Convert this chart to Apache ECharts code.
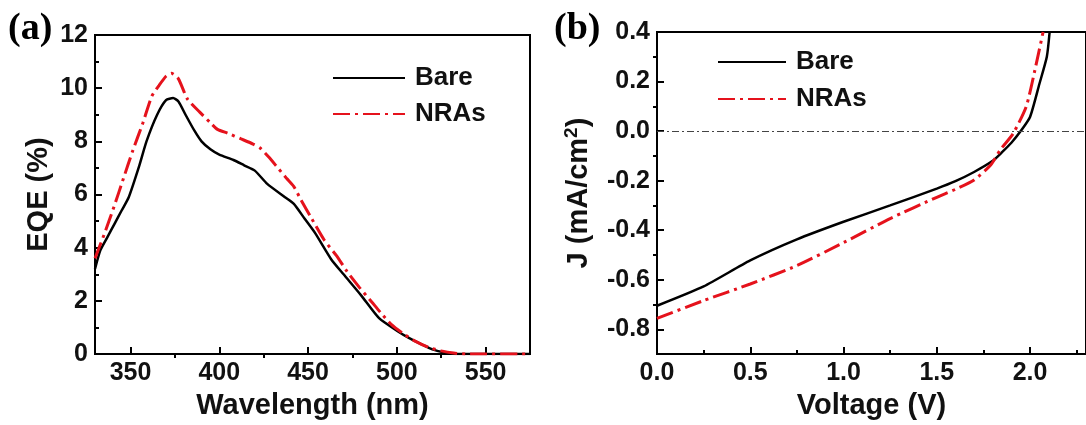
<!DOCTYPE html>
<html><head><meta charset="utf-8">
<script src="https://cdn.jsdelivr.net/npm/echarts@6/dist/echarts.min.js"></script>
<style>html,body{margin:0;padding:0;background:#fff}#c{width:1086px;height:425px}</style>
</head><body><div id="c"></div>
<script>
// ---- Panel (a): EQE spectra ----
const bareWavelength = [330,333,337,341,345,349,355,359,365,370,374,377,381,386,390,395,400,408,414,420,427,437,442,448,454,463,470,480,490,500,507,514,520,527,535,575];
const bareEQE = [3.2,3.9,4.4,4.9,5.4,5.9,7.1,8.0,9.0,9.55,9.63,9.5,9.0,8.4,8.0,7.7,7.5,7.3,7.1,6.9,6.4,5.9,5.65,5.1,4.55,3.57,3.0,2.2,1.35,0.88,0.6,0.37,0.18,0.06,0,0];
const nraWavelength = [330,336,341,346,351,357,362,366,370,373,377,382,389,395,399,405,412,419,423,428,433,438,442,446,452,459,466,472,479,486,491,497,504,510,518,525,532,540,575];
const nraEQE = [3.6,4.65,5.6,6.6,7.6,8.7,9.7,10.1,10.45,10.56,10.35,9.6,9.1,8.7,8.45,8.3,8.1,7.9,7.75,7.4,7.0,6.6,6.3,5.8,5.1,4.3,3.7,3.1,2.5,1.95,1.55,1.11,0.75,0.5,0.25,0.12,0.04,0,0];
const wlMajorTicks = [350,400,450,500,550];
const wlMinorTicks = [375,425,475,525];

// ---- Panel (b): J-V curves ----
const bareVoltage = [0,0.25,0.5,0.75,1.0,1.25,1.5,1.6,1.7,1.8,1.85,1.9,1.95,2.0,2.05,2.09,2.105];
const bareJ = [-0.705,-0.627,-0.522,-0.437,-0.366,-0.30,-0.232,-0.202,-0.165,-0.12,-0.085,-0.047,0.0,0.057,0.19,0.30,0.40];
const nraVoltage = [0,0.25,0.5,0.75,1.0,1.25,1.5,1.6,1.7,1.79,1.84,1.91,1.98,2.03,2.07];
const nraJ = [-0.756,-0.684,-0.617,-0.543,-0.45,-0.353,-0.267,-0.235,-0.197,-0.136,-0.076,-0.009,0.10,0.26,0.40];
const jMajorTicks = [-0.8,-0.6,-0.4,-0.2,0,0.2,0.4];
const jMinorTicks = [-0.7,-0.5,-0.3,-0.1,0.1,0.3];

const seriesNames = ['Bare','NRAs'];

const FONT = 'Liberation Sans, Arial, sans-serif';
const RED = '#e5121c';
const dashDot = [17,5,3,5];
const labelStyle = {color:'#111', fontFamily:FONT, fontWeight:'bold', fontSize:25};
const nameStyle = {color:'#111', fontFamily:FONT, fontWeight:'bold', fontSize:29};
const axLine = {show:true, onZero:false, lineStyle:{color:'#000', width:2}};

function zip(a,b){return a.map((v,i)=>[v,b[i]]);}

const chart = echarts.init(document.getElementById('c'), null, {renderer:'canvas'});
const legendText = {color:'#111', fontFamily:FONT, fontWeight:'bold', fontSize:26, lineHeight:30, padding:[0,0,0,5]};
chart.setOption({
  backgroundColor:'#fff',
  animation:false,
  grid:[
    {left:95, top:35, width:435, height:325, show:true, borderColor:'#000', borderWidth:2, backgroundColor:'transparent'},
    {left:657, top:32, width:437, height:324, show:true, borderColor:'#000', borderWidth:2, backgroundColor:'transparent'}
  ],
  xAxis:[
    {gridIndex:0, type:'value', min:330, max:575, axisLine:axLine,
     axisTick:{show:true, inside:true, length:7, lineStyle:{width:2,color:'#000'}, customValues:wlMajorTicks},
     axisLabel:{...labelStyle, margin:7, customValues:wlMajorTicks},
     splitLine:{show:false},
     name:'Wavelength (nm)', nameLocation:'middle', nameGap:29, nameTextStyle:nameStyle},
    {gridIndex:0, type:'value', min:330, max:575, axisLine:{show:false},
     axisTick:{show:true, inside:true, length:4, lineStyle:{width:2,color:'#000'}, customValues:wlMinorTicks},
     axisLabel:{show:false}, splitLine:{show:false}},
    {gridIndex:1, type:'value', min:0, max:2.3, interval:0.5, axisLine:axLine,
     axisTick:{show:true, inside:true, length:7, lineStyle:{width:2,color:'#000'}},
     minorTick:{show:true, splitNumber:2, length:4, lineStyle:{width:2,color:'#000'}},
     axisLabel:{...labelStyle, margin:7, showMaxLabel:false, formatter:v=>v.toFixed(1)},
     splitLine:{show:false},
     name:'Voltage (V)', nameLocation:'middle', nameGap:29, nameTextStyle:nameStyle}
  ],
  yAxis:[
    {gridIndex:0, type:'value', min:0, max:12, interval:2, axisLine:axLine,
     axisTick:{show:true, inside:true, length:7, lineStyle:{width:2,color:'#000'}},
     minorTick:{show:true, splitNumber:2, length:4, lineStyle:{width:2,color:'#000'}},
     axisLabel:{...labelStyle, margin:7},
     splitLine:{show:false},
     name:'EQE (%)', nameLocation:'middle', nameGap:42, nameTextStyle:nameStyle},
    {gridIndex:1, type:'value', min:-0.9, max:0.4, axisLine:axLine,
     axisTick:{show:true, inside:true, length:7, lineStyle:{width:2,color:'#000'}, customValues:jMajorTicks},
     axisLabel:{...labelStyle, margin:7, customValues:jMajorTicks, formatter:v=>v.toFixed(1)},
     splitLine:{show:false},
     name:'{n|J (mA/cm}{s|2}{n|)}', nameLocation:'middle', nameGap:62,
     nameTextStyle:{...nameStyle, rich:{
        n:{color:'#111', fontFamily:FONT, fontWeight:'bold', fontSize:29},
        s:{color:'#111', fontFamily:FONT, fontWeight:'bold', fontSize:19, verticalAlign:'top', padding:[0,0,14,0]}}}},
    {gridIndex:1, type:'value', min:-0.9, max:0.4, axisLine:{show:false},
     axisTick:{show:true, inside:true, length:4, lineStyle:{width:2,color:'#000'}, customValues:jMinorTicks},
     axisLabel:{show:false}, splitLine:{show:false}}
  ],
  legend:[
    {data:seriesNames, orient:'vertical', left:327, top:58, itemWidth:72, itemHeight:14, itemGap:6,
     itemStyle:{opacity:0}, textStyle:legendText},
    {data:seriesNames, orient:'vertical', left:712, top:42, itemWidth:68, itemHeight:14, itemGap:7,
     itemStyle:{opacity:0}, textStyle:legendText}
  ],
  graphic:[
    {type:'text', left:8, top:10, style:{text:'(a)', font:'bold 38px "Liberation Serif", "Times New Roman", serif', fill:'#000'}},
    {type:'text', left:554, top:10, style:{text:'(b)', font:'bold 38px "Liberation Serif", "Times New Roman", serif', fill:'#000'}}
  ],
  series:[
    {name:'Bare', type:'line', xAxisIndex:0, yAxisIndex:0, data:zip(bareWavelength,bareEQE), symbol:'none', smooth:0.2,
     lineStyle:{color:'#000', width:2.5}, itemStyle:{color:'#000'}},
    {name:'NRAs', type:'line', xAxisIndex:0, yAxisIndex:0, data:zip(nraWavelength,nraEQE), symbol:'none', smooth:0.2,
     lineStyle:{color:RED, width:3, type:dashDot}, itemStyle:{color:RED}},
    {name:'Bare', type:'line', xAxisIndex:2, yAxisIndex:1, data:zip(bareVoltage,bareJ), symbol:'none', smooth:0.2,
     lineStyle:{color:'#000', width:2.5}, itemStyle:{color:'#000'},
     markLine:{silent:true, symbol:'none', label:{show:false},
       lineStyle:{color:'#444', width:1, type:[7,3,2,3]}, data:[{yAxis:0}]}},
    {name:'NRAs', type:'line', xAxisIndex:2, yAxisIndex:1, data:zip(nraVoltage,nraJ), symbol:'none', smooth:0.2,
     lineStyle:{color:RED, width:3, type:dashDot}, itemStyle:{color:RED}}
  ]
});
</script>
</body></html>
